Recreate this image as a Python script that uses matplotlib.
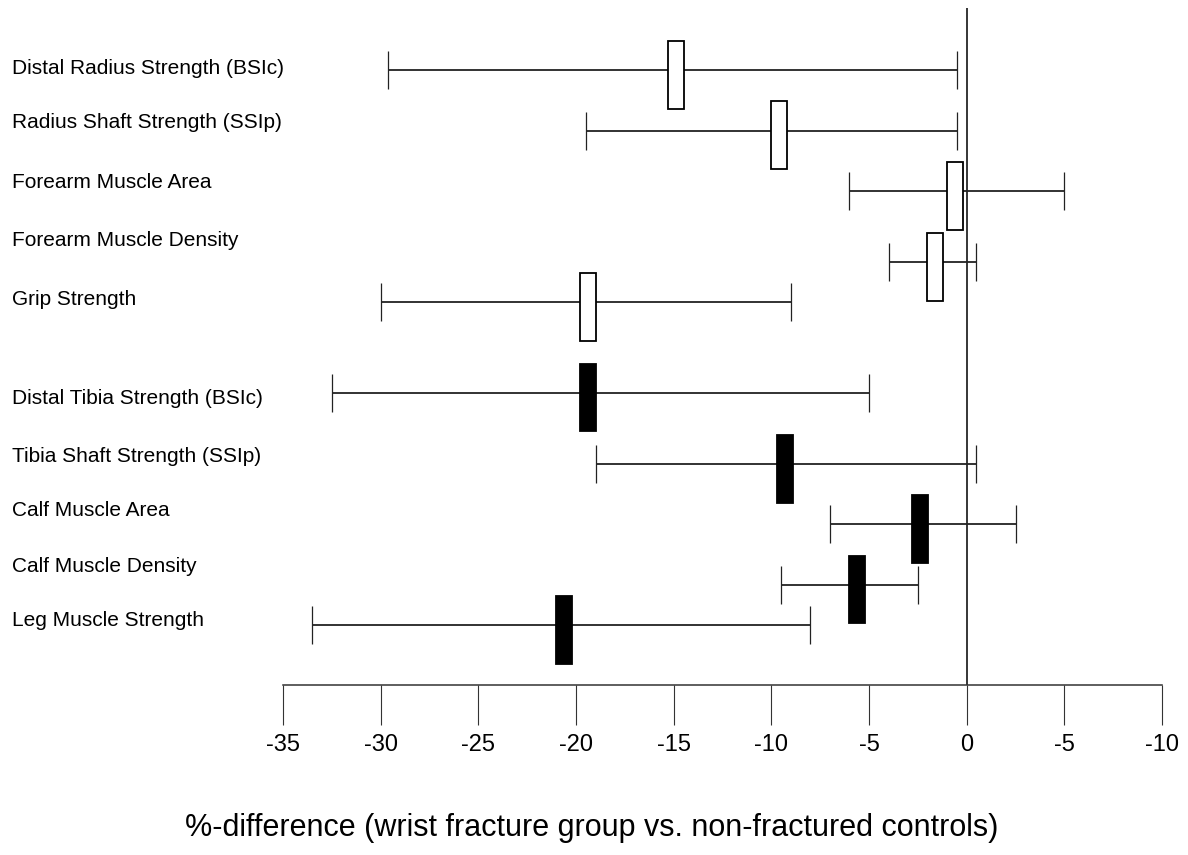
import matplotlib
matplotlib.use("Agg")
import matplotlib.pyplot as plt
import numpy as np

plt.rcParams["font.family"] = ["Liberation Sans", "DejaVu Sans"]

# measures, upper group (forearm, open boxes) then lower group (leg, filled boxes)
labels = [
    "Distal Radius Strength (BSIc)",
    "Radius Shaft Strength (SSIp)",
    "Forearm Muscle Area",
    "Forearm Muscle Density",
    "Grip Strength",
    "Distal Tibia Strength (BSIc)",
    "Tibia Shaft Strength (SSIp)",
    "Calf Muscle Area",
    "Calf Muscle Density",
    "Leg Muscle Strength",
]
filled = [False] * 5 + [True] * 5

# %-difference: point estimate and interval ends
centers = [-14.9, -9.6, -0.6, -1.6, -19.4, -19.4, -9.3, -2.4, -5.6, -20.6]
lows = [-29.6, -19.5, -6.0, -4.0, -30.0, -32.5, -19.0, -7.0, -9.5, -33.5]
highs = [-0.5, -0.5, 5.0, 0.5, -9.0, -5.0, 0.5, 2.5, -2.5, -8.0]

# rows as drawn in the figure (slightly uneven)
row_y = [0.0, 1.01, 2.02, 3.2, 3.87, 5.38, 6.57, 7.57, 8.58, 9.25]
label_y = [-0.03, 0.87, 1.87, 2.85, 3.83, 5.48, 6.45, 7.35, 8.28, 9.17]

xticks = [-35, -30, -25, -20, -15, -10, -5, 0, 5, 10]
xtick_labels = ["-35", "-30", "-25", "-20", "-15", "-10", "-5", "0", "-5", "-10"]

W, H = 1188, 855
fig = plt.figure(figsize=(W / 100, H / 100), dpi=100)
ax = fig.add_axes([283 / W, (H - 685) / H, 879 / W, 677 / H])

centers = np.array(centers)
rows = np.array(row_y)
xerr = [centers - np.array(lows), np.array(highs) - centers]

ax.errorbar(centers, rows, xerr=xerr, fmt="none", ecolor="#222222",
            elinewidth=1.3, capsize=13.5, capthick=0.9, zorder=2)

box_w = 0.82
box_h = 1.13
for c, r, f in zip(centers, rows, filled):
    ax.barh(r + 0.08, box_w, left=c - box_w / 2, height=box_h,
            color="black" if f else "white", edgecolor="black",
            linewidth=1.3, zorder=3)

ax.axvline(0, color="black", lw=1.1, zorder=1)

ax.set_xlim(-35, 10)
ax.set_ylim(10.25, -1.033)
for s in ["left", "top", "right"]:
    ax.spines[s].set_visible(False)
ax.spines["bottom"].set_color("#333333")
ax.spines["bottom"].set_linewidth(1.1)
ax.set_yticks([])
ax.set_xticks(xticks)
ax.set_xticklabels(xtick_labels, fontsize=17)
ax.tick_params(axis="x", direction="out", length=29, width=0.8,
               color="#333333", pad=6)
ax.patch.set_alpha(0)

label_tf = matplotlib.transforms.blended_transform_factory(fig.transFigure, ax.transData)
for lab, ly in zip(labels, label_y):
    ax.text(12 / W, ly, lab, transform=label_tf, ha="left", va="center", fontsize=15)

fig.text(592 / W, 1 - 828 / H,
         "%-difference (wrist fracture group vs. non-fractured controls)",
         ha="center", va="center", fontsize=22)

fig.savefig("out.png", dpi=100)
